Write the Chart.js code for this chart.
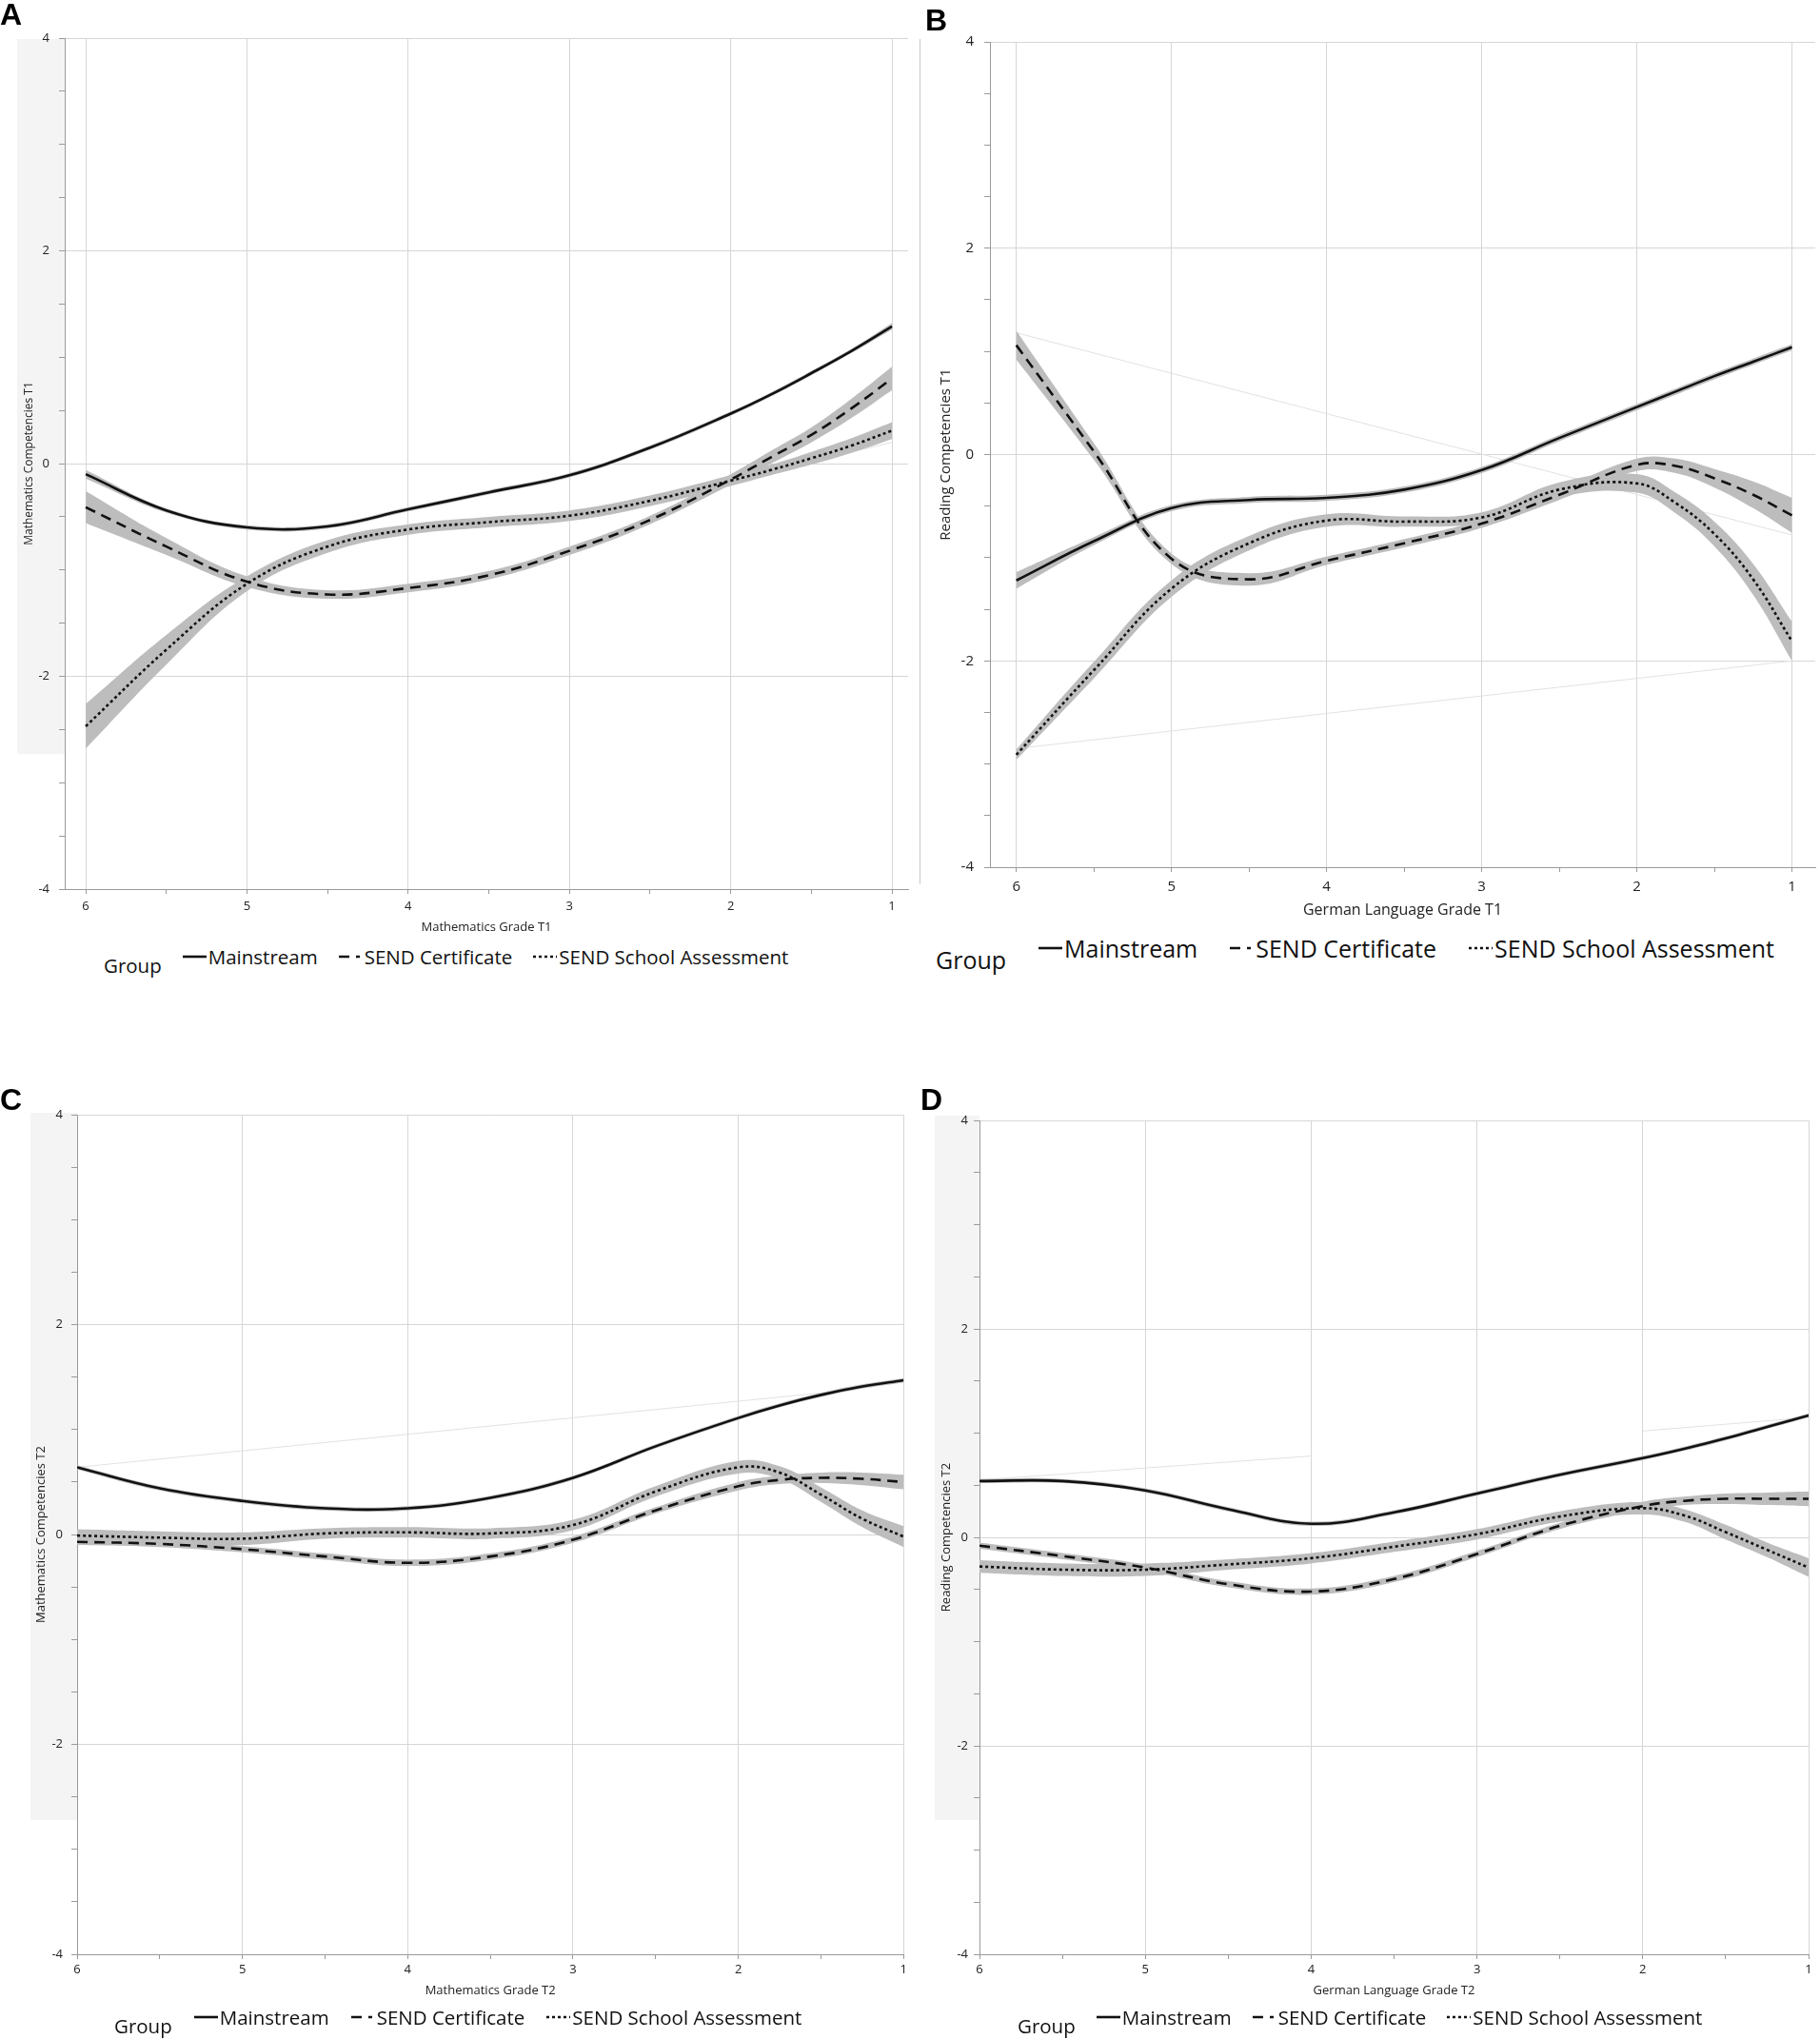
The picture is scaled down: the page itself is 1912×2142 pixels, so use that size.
<!DOCTYPE html>
<html lang="en">
<head>
<meta charset="UTF-8">
<title>Competencies by School Grade</title>
<script src="https://cdn.jsdelivr.net/npm/chart.js"></script>
<style>
    body {
        margin: 0;
        background: #fff;
        font-family: 'Open Sans', sans-serif;
    }
    #page {
        position: relative;
        width: 1912px;
        height: 2142px;
        overflow: hidden;
    }
    .letter {
        position: absolute;
        font-family: 'Liberation Sans', Arial, sans-serif;
        font-weight: bold;
        font-size: 32px;
        line-height: 1;
        color: #000;
    }
    .shade {
        position: absolute;
        background: #f4f4f4;
    }
    canvas {
        position: absolute;
    }
    .legend {
        position: absolute;
        display: flex;
        align-items: center;
        color: #111;
        white-space: nowrap;
    }
    .legend .group {
        position: relative;
    }
    .legend .item {
        display: flex;
        align-items: center;
    }
    .legend svg {
        margin-right: 2px;
    }
</style>
</head>
<body>
<div id="page">
    <div class="shade" style="left:18px; top:41px; width:50px; height:751px;"></div>
    <div class="shade" style="left:966px; top:41px; width:1px; height:888px; background:#c8c8c8;"></div>
    <div class="shade" style="left:32px; top:1169px; width:49px; height:743px;"></div>
    <div class="shade" style="left:982px; top:1172px; width:47px; height:740px;"></div>

    <canvas id="chartA" width="956" height="990" style="left:0; top:0;"></canvas>
    <canvas id="chartB" width="956" height="975" style="left:956px; top:0;"></canvas>
    <canvas id="chartC" width="956" height="1000" style="left:0; top:1120px;"></canvas>
    <canvas id="chartD" width="956" height="1000" style="left:956px; top:1120px;"></canvas>

    <div class="letter" style="left:0; top:-1px;">A</div>
    <div class="letter" style="left:972px; top:5px;">B</div>
    <div class="letter" style="left:0; top:1139px;">C</div>
    <div class="letter" style="left:967px; top:1139px;">D</div>

    <div class="legend" id="legendA" style="left:109px; top:991px; font-size:20.5px; gap:22px;"></div>
    <div class="legend" id="legendB" style="left:983px; top:979px; font-size:25px; gap:34px;"></div>
    <div class="legend" id="legendC" style="left:120px; top:2105px; font-size:20.5px; gap:23px;"></div>
    <div class="legend" id="legendD" style="left:1069px; top:2105px; font-size:20.5px; gap:22px;"></div>
</div>

<script>
    // Grades (x) read at these positions, 6 (worst) to 1 (best)
    const grades = [6, 5.5, 5, 4.5, 4, 3.5, 3, 2.5, 2, 1.75, 1.5, 1.25, 1];
    const gradeTicks = [6, 5.5, 5, 4.5, 4, 3.5, 3, 2.5, 2, 1.5, 1];
    const competenceTicks = [-4, -3.5, -3, -2.5, -2, -1.5, -1, -0.5, 0, 0.5, 1, 1.5, 2, 2.5, 3, 3.5, 4];
    const groupLabels = ['Mainstream', 'SEND Certificate', 'SEND School Assessment'];

    // A: Mathematics T1
    const mainstreamA = [-0.10, -0.44, -0.60, -0.59, -0.43, -0.27, -0.11, 0.15, 0.47, 0.65, 0.85, 1.06, 1.29];
    const certificateA = [-0.41, -0.78, -1.11, -1.23, -1.17, -1.05, -0.82, -0.53, -0.15, 0.06, 0.27, 0.52, 0.80];
    const schoolA = [-2.47, -1.75, -1.13, -0.78, -0.62, -0.55, -0.49, -0.35, -0.16, -0.06, 0.05, 0.17, 0.31];
    const mainstreamBandA = [0.04, 0.02, 0.02, 0.02, 0.02, 0.02, 0.02, 0.02, 0.02, 0.02, 0.02, 0.02, 0.03];
    const certificateBandA = [0.15, 0.08, 0.05, 0.04, 0.04, 0.04, 0.04, 0.04, 0.05, 0.06, 0.07, 0.09, 0.11];
    const schoolBandA = [0.21, 0.14, 0.07, 0.06, 0.05, 0.05, 0.05, 0.05, 0.05, 0.05, 0.06, 0.07, 0.08];
    const faintLinesA = [[{x: 2.35, y: -0.29}, {x: 1, y: 0.2}]];

    // B: Reading T1
    const mainstreamB = [-1.22, -0.84, -0.52, -0.44, -0.42, -0.34, -0.15, 0.16, 0.46, 0.61, 0.76, 0.90, 1.04];
    const certificateB = [1.06, 0.03, -1.01, -1.21, -1.03, -0.86, -0.67, -0.39, -0.10, -0.11, -0.23, -0.39, -0.59];
    const schoolB = [-2.91, -2.09, -1.30, -0.86, -0.64, -0.65, -0.61, -0.34, -0.28, -0.47, -0.77, -1.21, -1.81];
    const mainstreamBandB = [0.08, 0.04, 0.03, 0.03, 0.03, 0.03, 0.03, 0.03, 0.03, 0.03, 0.03, 0.03, 0.03];
    const certificateBandB = [0.14, 0.08, 0.05, 0.06, 0.04, 0.04, 0.04, 0.05, 0.06, 0.07, 0.09, 0.13, 0.17];
    const schoolBandB = [0.05, 0.08, 0.08, 0.07, 0.06, 0.05, 0.05, 0.07, 0.09, 0.10, 0.12, 0.15, 0.19];
    const faintLinesB = [
        [{x: 6, y: 1.18}, {x: 1, y: -0.78}],
        [{x: 6, y: -2.85}, {x: 1, y: -2.0}]
    ];

    // C: Mathematics T2
    const mainstreamC = [0.64, 0.44, 0.32, 0.25, 0.25, 0.35, 0.54, 0.84, 1.11, 1.23, 1.33, 1.41, 1.47];
    const certificateC = [-0.07, -0.09, -0.14, -0.21, -0.27, -0.21, -0.05, 0.23, 0.46, 0.52, 0.54, 0.53, 0.50];
    const schoolC = [-0.01, -0.03, -0.04, 0.01, 0.02, 0.01, 0.09, 0.41, 0.64, 0.59, 0.38, 0.15, -0.02];
    const mainstreamBandC = [0.02, 0.02, 0.02, 0.02, 0.02, 0.02, 0.02, 0.02, 0.02, 0.02, 0.02, 0.02, 0.02];
    const certificateBandC = [0.03, 0.03, 0.03, 0.03, 0.03, 0.03, 0.03, 0.03, 0.04, 0.04, 0.05, 0.06, 0.07];
    const schoolBandC = [0.06, 0.06, 0.06, 0.05, 0.05, 0.05, 0.05, 0.05, 0.06, 0.06, 0.07, 0.08, 0.10];
    const faintLinesC = [[{x: 6, y: 0.64}, {x: 1.3, y: 1.38}]];

    // D: Reading T2
    const mainstreamD = [0.54, 0.54, 0.45, 0.27, 0.13, 0.24, 0.42, 0.60, 0.76, 0.85, 0.95, 1.06, 1.17];
    const certificateD = [-0.08, -0.18, -0.29, -0.45, -0.52, -0.40, -0.16, 0.11, 0.30, 0.35, 0.37, 0.37, 0.37];
    const schoolD = [-0.28, -0.31, -0.31, -0.26, -0.20, -0.09, 0.03, 0.20, 0.28, 0.21, 0.05, -0.12, -0.29];
    const mainstreamBandD = [0.02, 0.02, 0.02, 0.02, 0.02, 0.02, 0.02, 0.02, 0.02, 0.02, 0.02, 0.02, 0.02];
    const certificateBandD = [0.03, 0.03, 0.03, 0.03, 0.03, 0.03, 0.03, 0.03, 0.04, 0.04, 0.05, 0.06, 0.07];
    const schoolBandD = [0.06, 0.06, 0.06, 0.05, 0.05, 0.05, 0.05, 0.05, 0.06, 0.06, 0.07, 0.07, 0.09];
    const faintLinesD = [
        [{x: 6, y: 0.55}, {x: 4, y: 0.78}],
        [{x: 2, y: 1.02}, {x: 1, y: 1.15}]
    ];

    const lineDashes = [[], [11, 7], [3, 3]];
    const bandColor = '#bdbdbd';
    const gridColor = '#d6d6d6';
    const axisColor = '#9a9a9a';

    Chart.defaults.font.family = "'Open Sans', sans-serif";
    Chart.defaults.color = '#222';

    function points(values, offsets, sign) {
        return grades.map((g, i) => ({x: g, y: values[i] + sign * (offsets ? offsets[i] : 0)}));
    }

    function createPanel(cfg) {
        const datasets = [];

        // order: higher numbers are painted first (underneath)
        cfg.faint.forEach(seg => datasets.push({
            data: seg, borderColor: '#e2e2e2', borderWidth: 1,
            pointRadius: 0, tension: 0, fill: false, order: 3
        }));

        cfg.series.forEach(s => {
            datasets.push({
                data: points(s.values, s.band, 1), borderColor: 'transparent', borderWidth: 1,
                backgroundColor: bandColor, pointRadius: 0, tension: 0.4, fill: '+1', order: 2
            });
            datasets.push({
                data: points(s.values, s.band, -1), borderColor: 'transparent', borderWidth: 1,
                pointRadius: 0, tension: 0.4, fill: false, order: 2
            });
        });

        cfg.series.forEach((s, i) => datasets.push({
            label: groupLabels[i],
            data: points(s.values, null, 0),
            borderColor: '#111', borderWidth: 2.6, borderDash: lineDashes[i],
            pointRadius: 0, tension: 0.4, fill: false, order: 0
        }));

        new Chart(document.getElementById(cfg.id), {
            type: 'line',
            data: {datasets: datasets},
            options: {
                responsive: false,
                animation: false,
                layout: {padding: {top: cfg.padTop, right: cfg.padRight, left: 0, bottom: 0}},
                plugins: {legend: {display: false}, tooltip: {enabled: false}},
                scales: {
                    x: {
                        type: 'linear',
                        reverse: true,
                        min: cfg.xMin,
                        max: cfg.xMax,
                        afterBuildTicks: s => { s.ticks = gradeTicks.map(v => ({value: v})); },
                        afterFit: s => { s.height = cfg.xAxisHeight; },
                        border: {color: axisColor},
                        grid: {
                            color: c => Number.isInteger(c.tick.value) ? gridColor : 'transparent',
                            tickColor: axisColor,
                            tickLength: 5
                        },
                        ticks: {
                            callback: v => Number.isInteger(v) ? v : '',
                            font: {size: cfg.tickFont},
                            padding: cfg.xTickPad,
                            maxRotation: 0,
                            autoSkip: false
                        },
                        title: {
                            display: true,
                            text: cfg.xTitle,
                            font: {size: cfg.xTitleFont},
                            padding: {top: 0, bottom: cfg.xTitlePad}
                        }
                    },
                    y: {
                        min: -4,
                        max: 4,
                        afterBuildTicks: s => { s.ticks = competenceTicks.map(v => ({value: v})); },
                        afterFit: s => { s.width = cfg.yAxisWidth; },
                        border: {color: axisColor},
                        grid: {
                            color: c => c.tick.value % 2 === 0 ? gridColor : 'transparent',
                            tickColor: axisColor,
                            tickLength: 6
                        },
                        ticks: {
                            callback: v => v % 2 === 0 ? v : '',
                            font: {size: cfg.tickFont},
                            padding: cfg.yTickPad,
                            autoSkip: false
                        },
                        title: {
                            display: true,
                            text: cfg.yTitle,
                            font: {size: cfg.yTitleFont},
                            padding: {top: cfg.yTitlePad, bottom: 0}
                        }
                    }
                }
            }
        });
    }

    function buildLegend(id, groupShift) {
        const el = document.getElementById(id);
        const group = document.createElement('span');
        group.className = 'group';
        group.style.top = groupShift + 'px';
        group.textContent = 'Group';
        el.appendChild(group);
        const dashAttr = ['', '11 7 4 40', '3 3'];
        groupLabels.forEach((label, i) => {
            const item = document.createElement('span');
            item.className = 'item';
            const dash = dashAttr[i] ? ' stroke-dasharray="' + dashAttr[i] + '"' : '';
            item.innerHTML = '<svg width="25" height="6"><line x1="0" y1="3" x2="25" y2="3" stroke="#111" stroke-width="2.6"' +
                dash + '/></svg><span>' + label + '</span>';
            el.appendChild(item);
        });
    }

    createPanel({
        id: 'chartA', padTop: 40, padRight: 2, yAxisWidth: 68, xAxisHeight: 56,
        xMin: 0.9, xMax: 6.13, tickFont: 13, xTitleFont: 13, yTitleFont: 12,
        xTickPad: 5, yTickPad: 10, xTitlePad: 8, yTitlePad: 23,
        xTitle: 'Mathematics Grade T1', yTitle: 'Mathematics Competencies T1',
        faint: faintLinesA,
        series: [
            {values: mainstreamA, band: mainstreamBandA},
            {values: certificateA, band: certificateBandA},
            {values: schoolA, band: schoolBandA}
        ]
    });

    createPanel({
        id: 'chartB', padTop: 44, padRight: 5, yAxisWidth: 84, xAxisHeight: 64,
        xMin: 0.85, xMax: 6.17, tickFont: 15, xTitleFont: 16, yTitleFont: 15,
        xTickPad: 7, yTickPad: 11, xTitlePad: 9, yTitlePad: 29,
        xTitle: 'German Language Grade T1', yTitle: 'Reading Competencies T1',
        faint: faintLinesB,
        series: [
            {values: mainstreamB, band: mainstreamBandB},
            {values: certificateB, band: certificateBandB},
            {values: schoolB, band: schoolBandB}
        ]
    });

    createPanel({
        id: 'chartC', padTop: 51, padRight: 1, yAxisWidth: 81, xAxisHeight: 67,
        xMin: 1, xMax: 6, tickFont: 13, xTitleFont: 13, yTitleFont: 13,
        xTickPad: 3, yTickPad: 9, xTitlePad: 21, yTitlePad: 35,
        xTitle: 'Mathematics Grade T2', yTitle: 'Mathematics Competencies T2',
        faint: faintLinesC,
        series: [
            {values: mainstreamC, band: mainstreamBandC},
            {values: certificateC, band: certificateBandC},
            {values: schoolC, band: schoolBandC}
        ]
    });

    createPanel({
        id: 'chartD', padTop: 57, padRight: 12, yAxisWidth: 73, xAxisHeight: 67,
        xMin: 1, xMax: 6, tickFont: 13, xTitleFont: 13, yTitleFont: 13,
        xTickPad: 3, yTickPad: 6, xTitlePad: 21, yTitlePad: 30,
        xTitle: 'German Language Grade T2', yTitle: 'Reading Competencies T2',
        faint: faintLinesD,
        series: [
            {values: mainstreamD, band: mainstreamBandD},
            {values: certificateD, band: certificateBandD},
            {values: schoolD, band: schoolBandD}
        ]
    });

    buildLegend('legendA', 9);
    buildLegend('legendB', 12);
    buildLegend('legendC', 9);
    buildLegend('legendD', 9);
</script>
</body>
</html>
